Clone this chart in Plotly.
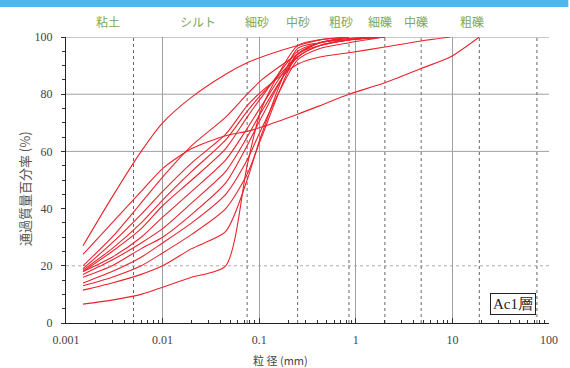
import plotly.graph_objects as go
import math

# ---- data ----
diameters = [0.0015, 0.003, 0.006, 0.01, 0.02, 0.045, 0.075, 0.106, 0.25, 0.425, 0.85, 2, 4.75, 9.5, 19]
curve_A = [27, 44, 60, 70, 79, 87, 91, 93, 97, 99, 100]
curve_G = [24, 35, 46, 54, 61, 65.5, 67, 68.5, 73, 76, 80, 84, 89, 93, 100]
curve_B = [20, 30, 42, 51, 62, 72, 80, 85, 94, 98, 99.5, 100]
curve_C = [19, 28, 38, 46, 56, 66, 76, 81, 90.5, 93, 94.5, 96.5, 98.6, 100]
curve_D = [18.5, 26, 35, 43, 53, 64, 74, 80, 93, 97, 99, 100]
curve_E = [18, 25, 33, 41, 50, 61, 72, 79, 95, 98, 99.5, 100]
curve_F = [18, 23, 30, 37, 46, 57, 68, 76, 94, 98, 99, 100]
curve_K = [17, 22, 28, 33, 42, 53, 65, 74, 93, 97, 99, 100]
curve_L = [16, 20, 26, 30, 38, 49, 62, 72, 94, 98, 100]
curve_M = [14, 18, 23, 28, 35, 45, 57, 68, 92, 96, 98, 100]
curve_H = [13, 16, 20, 24.5, 31, 40, 52, 65, 94, 97, 99, 100]
curve_I = [11.5, 14, 17, 20, 26, 32, 50, 66, 96, 98, 100]
curve_J = [6.6, 8, 10, 12.5, 16, 20, 55, 75, 97, 99, 100]
curves = [curve_A, curve_G, curve_B, curve_C, curve_D, curve_E, curve_F,
          curve_K, curve_L, curve_M, curve_H, curve_I, curve_J]

boundary_sizes = [0.005, 0.075, 0.25, 0.85, 2, 4.75, 19, 75]
class_labels = ["粘土", "シルト", "細砂", "中砂", "粗砂", "細礫", "中礫", "粗礫"]
class_label_pos = [0.0027, 0.0233, 0.094, 0.255, 0.71, 1.78, 4.18, 15.8]
x_tickvals = [0.001, 0.01, 0.1, 1, 10, 100]
x_ticktext = ["0.001", "0.01", "0.1", "1", "10", "100"]
layer_name = "Ac1層"

fig = go.Figure()

# horizontal reference lines
for yv, col, dash in [(20, "#aaaaaa", "dot"), (60, "#a0a0a0", "solid"), (80, "#a0a0a0", "solid"), (100, "#909090", "solid")]:
    fig.add_trace(go.Scatter(x=[0.001, 100], y=[yv, yv], mode="lines",
                             line=dict(color=col, width=1, dash=dash),
                             hoverinfo="skip", showlegend=False))

# classification boundary dashed lines
for d in boundary_sizes:
    fig.add_trace(go.Scatter(x=[d, d], y=[0, 100], mode="lines",
                             line=dict(color="#666666", width=1, dash="3px,3px"),
                             hoverinfo="skip", showlegend=False))

# grading curves
for c in curves:
    fig.add_trace(go.Scatter(x=diameters[:len(c)], y=c, mode="lines",
                             line=dict(color="rgb(235,35,45)", width=1.1, shape="spline", smoothing=0.7),
                             hoverinfo="skip", showlegend=False))

annotations = []
for lab, pos in zip(class_labels, class_label_pos):
    annotations.append(dict(x=math.log10(pos), y=1.055, xref="x", yref="paper",
                            xanchor="center", yanchor="middle",
                            text=lab, showarrow=False,
                            font=dict(family="Noto Sans CJK JP", size=12, color="#7da85a")))
annotations.append(dict(x=0.444, y=-0.128, xref="paper", yref="paper", text="粒 径 (mm)",
                        xanchor="center", yanchor="middle",
                        showarrow=False, font=dict(family="Noto Sans CJK JP", size=11, color="#444")))
annotations.append(dict(x=-0.086, y=0.47, xref="paper", yref="paper", text="通過質量百分率 (%)",
                        xanchor="center", yanchor="middle",
                        textangle=-90, showarrow=False,
                        font=dict(family="Noto Sans CJK JP", size=13, color="#555")))
annotations.append(dict(x=0.926, y=0.068, xref="paper", yref="paper", text=layer_name,
                        xanchor="center", yanchor="middle",
                        showarrow=False, bordercolor="#222", borderwidth=1, borderpad=2,
                        bgcolor="white",
                        font=dict(family="Liberation Serif", size=15, color="#222")))

minor_vals = [m * 10 ** e for e in range(-3, 2) for m in range(2, 10)]

fig.update_layout(
    width=570, height=368,
    margin=dict(l=66, r=17, t=37, b=45),
    paper_bgcolor="white", plot_bgcolor="white",
    annotations=annotations,
    shapes=[dict(type="rect", xref="paper", yref="paper",
                 x0=-0.14, x1=1.04, y0=1 + 30 / 286, y1=1 + 38 / 286,
                 fillcolor="#4ab8ee", line=dict(width=0), layer="above")],
    xaxis=dict(type="log", range=[-3, 2], tickvals=x_tickvals, ticktext=x_ticktext,
               showgrid=True, gridcolor="#a0a0a0", gridwidth=1,
               ticks="inside", ticklen=5, tickcolor="#333", ticklabelstandoff=6,
               minor=dict(tickvals=minor_vals, ticks="inside", ticklen=3, tickcolor="#333", showgrid=False),
               showline=True, linecolor="#222", linewidth=1, zeroline=False,
               tickfont=dict(family="Liberation Serif", size=12, color="#444")),
    yaxis=dict(range=[0, 100], dtick=20, showgrid=False, zeroline=False,
               ticks="outside", ticklen=4, tickcolor="#333", ticklabelstandoff=6,
               minor=dict(dtick=5, ticks="outside", ticklen=3, tickcolor="#333"),
               showline=True, linecolor="#222", linewidth=1,
               tickfont=dict(family="Liberation Serif", size=12, color="#444")),
)

fig.write_html("out.html")
